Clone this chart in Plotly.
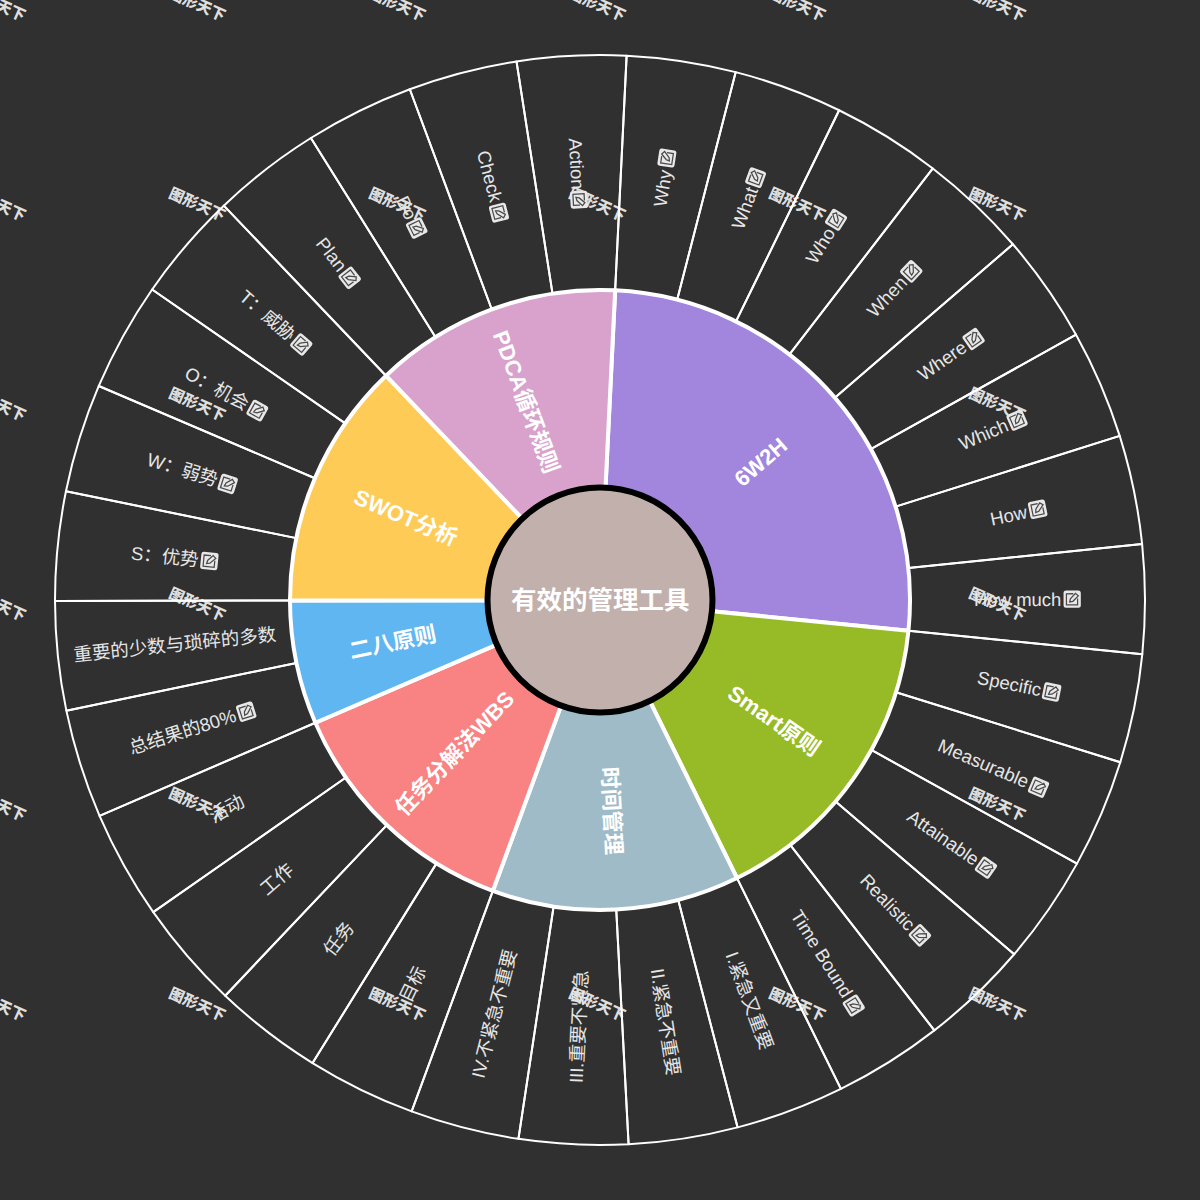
import base64
import math
import plotly.graph_objects as go

# data
root_label = "有效的管理工具"
groups = ["6W2H", "Smart原则", "时间管理", "任务分解法WBS", "二八原则", "SWOT分析", "PDCA循环规则"]
group_counts = [8, 5, 4, 4, 2, 4, 4]
group_colors = ["#a285dc", "#97bb26", "#a0bbc8", "#f98282", "#5fb6f0", "#fecb57", "#d8a2cc"]
leaves = [
    "Why", "What", "Who", "When", "Where", "Which", "How", "How much",
    "Specific", "Measurable", "Attainable", "Realistic", "Time Bound",
    "I.紧急又重要", "II.紧急不重要", "III.重要不紧急", "IV.不紧急不重要",
    "目标", "任务", "工作", "活动",
    "总结果的80%", "重要的少数与琐碎的多数",
    "S：优势", "W：弱势", "O：机会", "T：威胁",
    "Plan", "Do", "Check", "Action",
]
leaf_values = [1] * len(leaves)
no_icon = ["I.紧急又重要", "II.紧急不重要", "III.重要不紧急", "IV.不紧急不重要",
           "目标", "任务", "工作", "活动", "重要的少数与琐碎的多数"]
watermark = "图形天下"

# layout constants
SIZE = 1200
C = SIZE / 2
R_ROOT = 112.5
R_MID = 310
R_OUT = 545
START = 2.8
BG = "#303030"
TEXT = "#e6e6e6"
FONT = "Liberation Sans, Noto Sans CJK SC, sans-serif"
LEAF_SIZE = 18.5
ICON = 18
GAP = 2

# Arial-ish widths, only used to sit the icon right after the text
WIDTHS = {" ": .278, ".": .278, ":": .278, "%": .889, "0": .556, "8": .556, "I": .278, "V": .667,
          "A": .667, "B": .667, "C": .722, "D": .722, "H": .722, "M": .833, "O": .778, "P": .667,
          "R": .722, "S": .667, "T": .611, "W": .944, "a": .556, "b": .556, "c": .5, "d": .556,
          "e": .556, "f": .278, "g": .556, "h": .556, "i": .222, "k": .5, "l": .222, "m": .833,
          "n": .556, "o": .556, "p": .556, "r": .333, "s": .5, "t": .278, "u": .556, "w": .722, "y": .5}


def text_width(s):
    return sum(WIDTHS.get(ch, 1.0) for ch in s) * LEAF_SIZE


def polar(r, a):
    rad = math.radians(a)
    return (C + r * math.sin(rad)) / SIZE, 1 - (C - r * math.cos(rad)) / SIZE


def radial_angle(a):
    # same flip rule as a radial label: never upside down
    return a - 90 if a % 360 < 180 else a - 270


def dom(r):
    return dict(x=[(C - r) / SIZE, (C + r) / SIZE], y=[(C - r) / SIZE, (C + r) / SIZE])


def icon_uri(angle):
    svg = (
        '<svg xmlns="http://www.w3.org/2000/svg" viewBox="-20 -20 140 140">'
        f'<g transform="rotate({angle:.2f} 50 50)">'
        '<rect x="2" y="2" width="96" height="96" rx="14" fill="#e8e8e8"/>'
        '<path d="M56 20H18V82H80V46" fill="none" stroke="#4a4a4a" stroke-width="7"/>'
        '<path d="M36 66L40 48L68 18L84 32L54 62Z" fill="#e8e8e8" stroke="#4a4a4a" stroke-width="7"/>'
        '</g></svg>'
    )
    return "data:image/svg+xml;base64," + base64.b64encode(svg.encode()).decode()


fig = go.Figure()
fig.add_trace(go.Pie(
    labels=leaves, values=leaf_values, sort=False, direction="clockwise", rotation=START,
    hole=R_MID / R_OUT, domain=dom(R_OUT), textinfo="none", showlegend=False,
    marker=dict(colors=["rgba(0,0,0,0)"] * len(leaves), line=dict(color="#ffffff", width=2)),
))
fig.add_trace(go.Pie(
    labels=groups, values=group_counts, sort=False, direction="clockwise", rotation=START,
    hole=R_ROOT / R_MID, domain=dom(R_MID), textinfo="none", showlegend=False,
    marker=dict(colors=group_colors, line=dict(color="#ffffff", width=4)),
))
fig.add_trace(go.Pie(
    labels=[root_label], values=[1], sort=False, domain=dom(R_ROOT), textinfo="none", showlegend=False,
    marker=dict(colors=["#c2b0ac"], line=dict(color="#000000", width=6)),
))

annotations = []
images = []

annotations.append(dict(x=0.5, y=0.5, xref="paper", yref="paper", text=f"<b>{root_label}</b>", showarrow=False,
                        xanchor="center", yanchor="middle",
                        font=dict(family=FONT, size=25.5, color="#ffffff")))

step = 360 / sum(group_counts)
pos = 0
r_group = (R_ROOT + R_MID) / 2
for name, count in zip(groups, group_counts):
    a = START + (pos + count / 2) * step
    x, y = polar(r_group, a)
    annotations.append(dict(x=x, y=y, xref="paper", yref="paper", text=f"<b>{name}</b>", showarrow=False,
                            textangle=radial_angle(a), xanchor="center", yanchor="middle",
                            font=dict(family=FONT, size=22, color="#ffffff")))
    pos += count

r_leaf = (R_MID + R_OUT) / 2
for i, name in enumerate(leaves):
    a = START + (i + 0.5) * step
    ang = radial_angle(a)
    side = 1 if a % 360 < 180 else -1
    r_text = r_leaf
    if name not in no_icon:
        w = text_width(name)
        r_text = r_leaf - side * (ICON + GAP) / 2
        r_icon = r_leaf + side * (w + GAP) / 2
        ix, iy = polar(r_icon, a)
        images.append(dict(source=icon_uri(ang), xref="paper", yref="paper", x=ix, y=iy,
                           sizex=ICON * 1.4 / SIZE, sizey=ICON * 1.4 / SIZE,
                           xanchor="center", yanchor="middle", layer="above"))
    x, y = polar(r_text, a)
    annotations.append(dict(x=x, y=y, xref="paper", yref="paper", text=name, showarrow=False,
                            textangle=ang, xanchor="center", yanchor="middle",
                            font=dict(family=FONT, size=LEAF_SIZE, color=TEXT)))

# watermark sits under the chart, the outer ring is see-through
shapes = []
for row in range(6):
    for col in range(6):
        cx = -3 + col * 200
        cy = 5 + row * 200
        shapes.append(dict(type="rect", xref="paper", yref="paper", layer="below",
                           x0=(cx - 40) / SIZE, x1=(cx + 40) / SIZE,
                           y0=1 - (cy + 20) / SIZE, y1=1 - (cy - 20) / SIZE,
                           line=dict(width=0), fillcolor="rgba(0,0,0,0)",
                           label=dict(text=watermark, textangle=24, textposition="middle center",
                                      font=dict(family="Noto Sans CJK SC", size=15, color="#dedede", weight=900))))

fig.update_layout(
    width=SIZE, height=SIZE,
    margin=dict(l=0, r=0, t=0, b=0),
    paper_bgcolor=BG, plot_bgcolor=BG,
    annotations=annotations, images=images, shapes=shapes,
)
fig.write_html("out.html", config=dict(displayModeBar=False),
               post_script="document.body.style.margin='0';document.body.style.overflow='hidden';")
